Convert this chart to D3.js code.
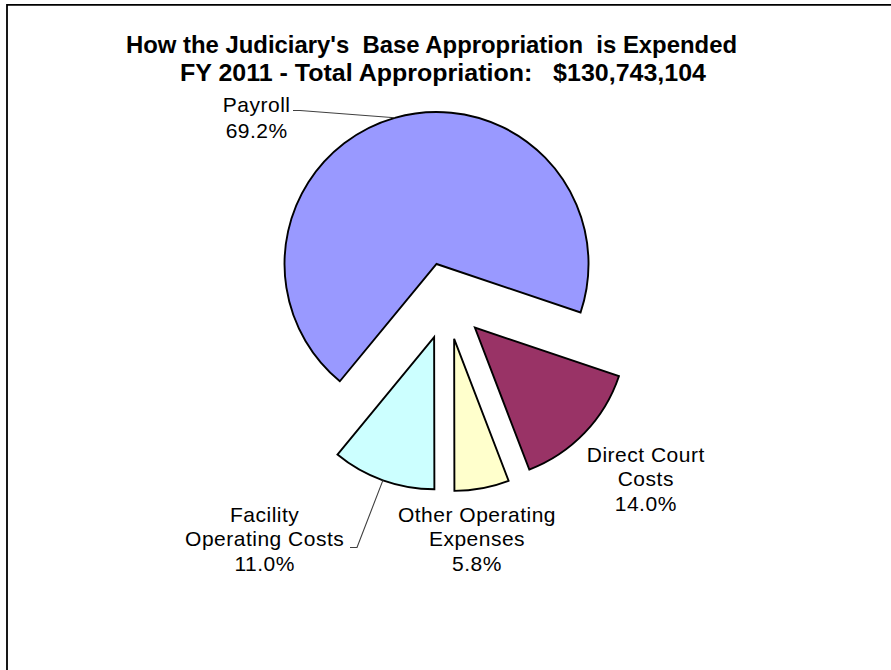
<!DOCTYPE html>
<html><head><meta charset="utf-8">
<script src="https://cdn.jsdelivr.net/npm/d3@7"></script>
<style>
html,body{margin:0;padding:0;background:#fff;}
text{font-family:"Liberation Sans",Arial,sans-serif;white-space:pre;}
</style></head>
<body>
<svg id="chart" width="891" height="670"></svg>
<script>
// ---- data ----
const categories = ["Payroll", "Direct Court Costs", "Other Operating Expenses", "Facility Operating Costs"];
const shares = [69.2, 14.0, 5.8, 11.0];
const labelLines = [["Payroll"], ["Direct Court", "Costs"], ["Other Operating", "Expenses"], ["Facility", "Operating Costs"]];
const titleLines = ["How the Judiciary's  Base Appropriation  is Expended", "FY 2011 - Total Appropriation:   $130,743,104"];

// ---- style / layout ----
const colors = ["#9999FF", "#993366", "#FFFFCC", "#CCFFFF"];
const W = 891, H = 670;
const cx = 447.1, cy = 301.0, R = 152, explode = 38.5;
const startDeg = 219.5;
const labelPos = [
  {x: 256.7, y: 111.7, dy: 26.6, anchor: "middle"},
  {x: 645.8, y: 461.7, dy: 24.7, anchor: "middle"},
  {x: 477.0, y: 521.7, dy: 24.7, anchor: "middle"},
  {x: 264.7, y: 521.7, dy: 24.7, anchor: "middle"}
];

const svg = d3.select("#chart");
svg.append("rect").attr("width", W).attr("height", H).attr("fill", "#fff");
// frame (top and left edges visible)
svg.append("path").attr("d", "M7,670 L7,4.8 L891,4.8")
  .attr("fill", "none").attr("stroke", "#000").attr("stroke-width", 1.8);

// title
const title = svg.append("g");
const titleX = [431.5, 443];
const titleY = [53, 81];
const titleW = [611, 526];
titleLines.forEach((t, i) => {
  title.append("text").attr("x", titleX[i]).attr("y", titleY[i])
    .attr("text-anchor", "middle").attr("font-size", 24).attr("font-weight", "bold")
    .attr("fill", "#000").attr("textLength", titleW[i]).attr("lengthAdjust", "spacingAndGlyphs")
    .text(t);
});

const pie = d3.pie().sort(null).value(d => d)
  .startAngle(startDeg * Math.PI / 180).endAngle(startDeg * Math.PI / 180 + 2 * Math.PI);
const arcs = pie(shares);
const arc = d3.arc().innerRadius(0).outerRadius(R);

const g = svg.append("g").attr("transform", `translate(${cx},${cy})`);
arcs.forEach((a, i) => {
  const mid = (a.startAngle + a.endAngle) / 2;
  const ox = explode * Math.sin(mid), oy = -explode * Math.cos(mid);
  g.append("path").attr("d", arc(a))
    .attr("transform", `translate(${ox},${oy})`)
    .attr("fill", colors[i]).attr("stroke", "#000").attr("stroke-width", 1.9)
    .attr("stroke-linejoin", "miter");
});

// labels
const fmt = d3.format(".1f");
arcs.forEach((a, i) => {
  const p = labelPos[i];
  const lines = labelLines[i].concat([fmt(shares[i]) + "%"]);
  const t = svg.append("text").attr("text-anchor", p.anchor)
    .attr("font-size", 21).attr("fill", "#000").attr("letter-spacing", 0.5);
  lines.forEach((l, k) => {
    t.append("tspan").attr("x", p.x).attr("y", p.y + k * p.dy).text(l);
  });
});

// leader lines (Payroll, Facility)
function arcPoint(a) {
  const mid = (a.startAngle + a.endAngle) / 2;
  return [cx + (R + explode) * Math.sin(mid), cy - (R + explode) * Math.cos(mid)];
}
const pp = arcPoint(arcs[0]);
svg.append("polyline")
  .attr("points", [[293, 110.5], [300, 110.5], pp].map(p => p.join(",")).join(" "))
  .attr("fill", "none").attr("stroke", "#404040").attr("stroke-width", 1.1);
const fp = arcPoint(arcs[3]);
svg.append("polyline")
  .attr("points", [[350, 547.5], [357, 547.5], fp].map(p => p.join(",")).join(" "))
  .attr("fill", "none").attr("stroke", "#404040").attr("stroke-width", 1.1);
</script>
</body></html>
